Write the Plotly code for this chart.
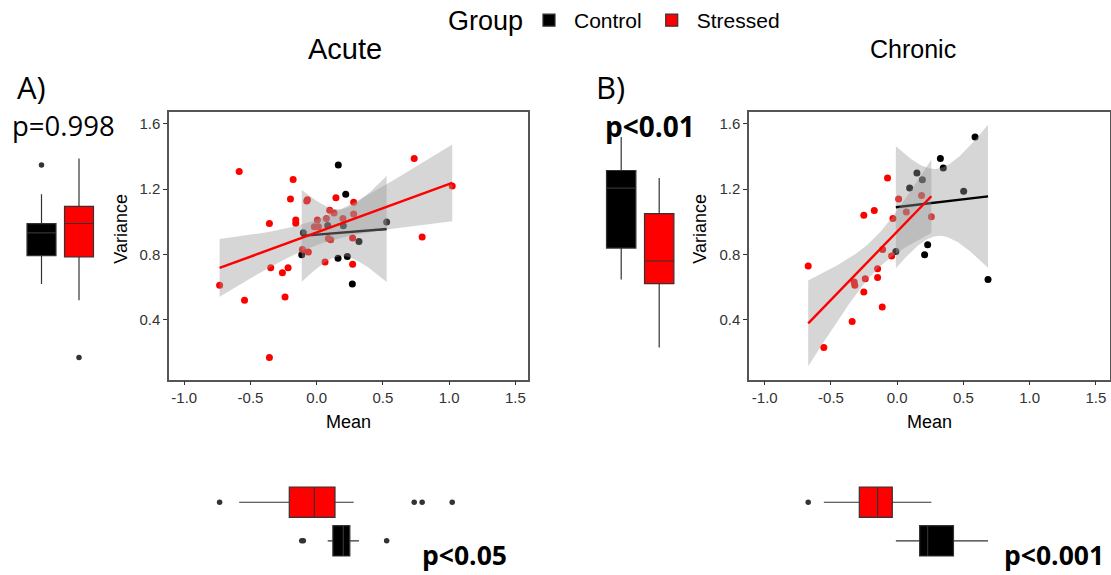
import numpy as np
import plotly.graph_objects as go

W, H = 1111, 575

# ---------------- data ----------------
acute_ctrl_mean = [0.163, 0.219, -0.101, -0.113, 0.083, 0.201, 0.319, 0.161, 0.231, 0.269, 0.528]
acute_ctrl_var = [1.348, 1.169, 0.933, 0.799, 0.978, 0.976, 0.880, 0.778, 0.788, 0.620, 1.000]

acute_str_mean = [-0.733, -0.585, -0.545, -0.357, -0.347, -0.357, -0.259, -0.216, -0.239, -0.198,
                  -0.178, -0.158, -0.158, -0.108, -0.070, -0.075, -0.063, -0.018, 0.005, 0.013,
                  0.073, 0.098, 0.131, 0.088, 0.106, 0.063, 0.145, 0.198, 0.271, 0.279,
                  0.279, 0.271, 0.736, 0.796, 1.023]
acute_str_var = [0.612, 1.309, 0.520, 0.990, 0.719, 0.170, 0.689, 0.719, 0.540, 1.140,
                 1.260, 1.012, 0.992, 0.831, 1.136, 1.128, 0.815, 0.970, 1.012, 0.970,
                 1.020, 1.071, 1.055, 0.898, 0.890, 0.755, 1.148, 1.020, 0.902, 1.120,
                 1.049, 0.740, 1.388, 0.908, 1.220]

chronic_ctrl_mean = [0.588, 0.326, 0.348, 0.149, 0.190, 0.094, 0.502, -0.010, 0.230, 0.207, 0.686]
chronic_ctrl_var = [1.519, 1.388, 1.330, 1.299, 1.258, 1.207, 1.187, 0.819, 0.860, 0.799, 0.648]

chronic_str_mean = [-0.672, -0.554, -0.340, -0.325, -0.320, -0.252, -0.241, -0.252, -0.173, -0.148,
                    -0.148, -0.113, -0.110, -0.073, -0.042, -0.032, 0.011, 0.069, 0.184, 0.258]
chronic_str_var = [0.730, 0.231, 0.390, 0.632, 0.612, 0.571, 0.652, 1.041, 1.069, 0.713,
                   0.660, 0.479, 0.831, 1.268, 0.791, 1.020, 1.140, 1.061, 1.161, 1.031]

groups = ["Control", "Stressed"]
group_colors = ["#000000", "#FF0000"]
legend_title = "Group"
panel_titles = ["Acute", "Chronic"]
panel_letters = ["A)", "B)"]
p_var = ["p=0.998", "p<0.01"]
p_mean = ["p<0.05", "p<0.001"]
x_ticks = [-1.0, -0.5, 0.0, 0.5, 1.0, 1.5]
x_tick_labels = ["-1.0", "-0.5", "0.0", "0.5", "1.0", "1.5"]
y_ticks = [0.4, 0.8, 1.2, 1.6]
y_tick_labels = ["0.4", "0.8", "1.2", "1.6"]
x_title = "Mean"
y_title = "Variance"

# ---------------- helpers ----------------
def px(x):
    return x / W

def py(y):
    return 1 - y / H

def t975(df):
    z = 1.959963985
    return (z + (z**3 + z) / (4 * df)
            + (5 * z**5 + 16 * z**3 + 3 * z) / (96 * df**2)
            + (3 * z**7 + 19 * z**5 + 17 * z**3 - 15 * z) / (384 * df**3)
            + (79 * z**9 + 776 * z**7 + 1482 * z**5 - 1920 * z**3 - 945 * z) / (92160 * df**4))

def lm_band(x, y, npts=80):
    x = np.asarray(x, float)
    y = np.asarray(y, float)
    n = len(x)
    b1, b0 = np.polyfit(x, y, 1)
    xs = np.linspace(x.min(), x.max(), npts)
    yh = b0 + b1 * xs
    res = y - (b0 + b1 * x)
    s = np.sqrt(np.sum(res**2) / (n - 2))
    sxx = np.sum((x - x.mean())**2)
    se = s * np.sqrt(1.0 / n + (xs - x.mean())**2 / sxx)
    t = t975(n - 2)
    return xs, yh, yh - t * se, yh + t * se

FONT = "Liberation Sans, Arial, Helvetica, sans-serif"
PFONT = "Open Sans, Noto Sans, sans-serif"
BOXLINE = "#333333"
BAND = "rgba(153,153,153,0.4)"

fig = go.Figure()

panels = [
    dict(ctrl=(acute_ctrl_mean, acute_ctrl_var), strd=(acute_str_mean, acute_str_var),
         ax=("x", "y"), left=("x2", "y2"), bottom=("x3", "y3")),
    dict(ctrl=(chronic_ctrl_mean, chronic_ctrl_var), strd=(chronic_str_mean, chronic_str_var),
         ax=("x4", "y4"), left=("x5", "y5"), bottom=("x6", "y6")),
]

for pi, p in enumerate(panels):
    data = [p["ctrl"], p["strd"]]
    xa, ya = p["ax"]
    # points
    for gi, (mx, vy) in enumerate(data):
        fig.add_trace(go.Scatter(x=mx, y=vy, mode="markers", xaxis=xa, yaxis=ya,
                                 marker=dict(color=group_colors[gi], size=7, line=dict(width=0)),
                                 showlegend=False, hoverinfo="skip"))
    # smooth: ribbon + line per group
    for gi, (mx, vy) in enumerate(data):
        xs, yh, lo, hi = lm_band(mx, vy)
        fig.add_trace(go.Scatter(x=np.concatenate([xs, xs[::-1]]), y=np.concatenate([hi, lo[::-1]]),
                                 fill="toself", fillcolor=BAND, line=dict(width=0), mode="lines",
                                 xaxis=xa, yaxis=ya, showlegend=False, hoverinfo="skip"))
        fig.add_trace(go.Scatter(x=xs, y=yh, mode="lines", xaxis=xa, yaxis=ya,
                                 line=dict(color=group_colors[gi], width=2.4),
                                 showlegend=False, hoverinfo="skip"))
    # left (variance) boxplots
    lx, ly = p["left"]
    for gi, (mx, vy) in enumerate(data):
        fig.add_trace(go.Box(y=vy, x0=gi + 1, xaxis=lx, yaxis=ly, name=groups[gi],
                             legendgroup=groups[gi], showlegend=(pi == 0),
                             fillcolor=group_colors[gi], line=dict(color=BOXLINE, width=1.2),
                             marker=dict(color=BOXLINE, size=5.5), boxpoints="outliers",
                             pointpos=0, jitter=0, whiskerwidth=0, width=0.773,
                             quartilemethod="inclusive", hoverinfo="skip"))
    # bottom (mean) boxplots
    bx, by = p["bottom"]
    for gi, (mx, vy) in enumerate(data):
        fig.add_trace(go.Box(x=mx, y0=1 if gi == 0 else 2, orientation="h", xaxis=bx, yaxis=by,
                             name=groups[gi], legendgroup=groups[gi], showlegend=False,
                             fillcolor=group_colors[gi], line=dict(color=BOXLINE, width=1.2),
                             marker=dict(color=BOXLINE, size=5.5), boxpoints="outliers",
                             pointpos=0, jitter=0, whiskerwidth=0, width=0.79,
                             quartilemethod="inclusive", hoverinfo="skip"))

scatter_x_common = dict(tickvals=x_ticks, ticktext=x_tick_labels, ticks="outside", ticklen=4,
                        tickcolor="#333333", tickwidth=1, showline=True, mirror=True,
                        linecolor="#555555", linewidth=1.5, showgrid=False, zeroline=False,
                        tickfont=dict(family=FONT, size=15, color="#333333"))
scatter_y_common = dict(tickvals=y_ticks, ticktext=y_tick_labels, ticks="outside", ticklen=4,
                        tickcolor="#333333", tickwidth=1, showline=True, mirror=True,
                        linecolor="#555555", linewidth=1.5, showgrid=False, zeroline=False,
                        range=[0.034, 1.675],
                        tickfont=dict(family=FONT, size=15, color="#333333"))
hidden = dict(visible=False, showgrid=False, zeroline=False, fixedrange=True)

ydom = [py(379), py(110)]
acute_xr = [-1.115, 1.595]
chronic_xr = [-1.119, 1.607]
bottom_ydom = [py(560), py(482.65)]

fig.update_layout(
    xaxis=dict(domain=[px(169), px(528)], range=acute_xr, anchor="y", **scatter_x_common),
    yaxis=dict(domain=ydom, anchor="x", **scatter_y_common),
    xaxis2=dict(domain=[px(22.75), px(97.75)], range=[0.5, 2.5], anchor="y2", **hidden),
    yaxis2=dict(domain=ydom, range=[0.034, 1.675], anchor="x2", **hidden),
    xaxis3=dict(domain=[px(169), px(528)], range=acute_xr, anchor="y3", **hidden),
    yaxis3=dict(domain=bottom_ydom, range=[0.5, 2.5], anchor="x3", **hidden),
    xaxis4=dict(domain=[px(749), px(1110)], range=chronic_xr, anchor="y4", **scatter_x_common),
    yaxis4=dict(domain=ydom, anchor="x4", **scatter_y_common),
    xaxis5=dict(domain=[px(602.2), px(678.2)], range=[0.5, 2.5], anchor="y5", **hidden),
    yaxis5=dict(domain=ydom, range=[0.034, 1.675], anchor="x5", **hidden),
    xaxis6=dict(domain=[px(749), px(1110)], range=chronic_xr, anchor="y6", **hidden),
    yaxis6=dict(domain=bottom_ydom, range=[0.5, 2.5], anchor="x6", **hidden),
)

ann = []
# legend title
ann.append(dict(text=legend_title, x=px(446), y=py(19), xanchor="left",
                font=dict(family=FONT, size=27, color="black")))
# panel titles
ann.append(dict(text=panel_titles[0], x=px(345), y=py(47), font=dict(family=FONT, size=29, color="black")))
ann.append(dict(text=panel_titles[1], x=px(913), y=py(47), font=dict(family=FONT, size=25, color="black")))
# axis titles
for cx in (348.5, 929.5):
    ann.append(dict(text=x_title, x=px(cx), y=py(421), font=dict(family=FONT, size=18, color="black")))
for cx in (121, 700):
    ann.append(dict(text=y_title, x=px(cx), y=py(227.5), textangle=-90,
                    font=dict(family=FONT, size=18, color="black")))
# letters
ann.append(dict(text=panel_letters[0], x=px(15), y=py(85), xanchor="left", font=dict(family=PFONT, size=31, color="black")))
ann.append(dict(text=panel_letters[1], x=px(594), y=py(85), xanchor="left", font=dict(family=PFONT, size=31, color="black")))
# p-values
ann.append(dict(text=p_var[0], x=px(63.5), y=py(124), font=dict(family=PFONT, size=27.5, color="black")))
ann.append(dict(text="<b>" + p_var[1] + "</b>", x=px(650), y=py(124), font=dict(family=PFONT, size=28, color="black")))
ann.append(dict(text="<b>" + p_mean[0] + "</b>", x=px(464), y=0, yanchor="bottom", font=dict(family=PFONT, size=26.5, color="black")))
ann.append(dict(text="<b>" + p_mean[1] + "</b>", x=px(1054), y=0, yanchor="bottom", font=dict(family=PFONT, size=26.5, color="black")))
for a in ann:
    a.update(xref="paper", yref="paper", showarrow=False)
    a.setdefault("xanchor", "center")
    a.setdefault("yanchor", "middle")

fig.update_layout(
    annotations=ann,
    width=W, height=H, autosize=False,
    margin=dict(l=0, r=0, t=0, b=0),
    paper_bgcolor="white", plot_bgcolor="white",
    boxmode="overlay",
    legend=dict(orientation="h", x=px(524), xanchor="left", y=py(-2), yanchor="top",
                font=dict(family=FONT, size=21, color="black"), itemwidth=40,
                bgcolor="rgba(0,0,0,0)", tracegroupgap=0),
    font=dict(family=FONT),
)

fig.write_html("out.html", config={"displayModeBar": False},
               post_script="document.body.style.margin='0px';document.body.style.overflow='hidden';")
